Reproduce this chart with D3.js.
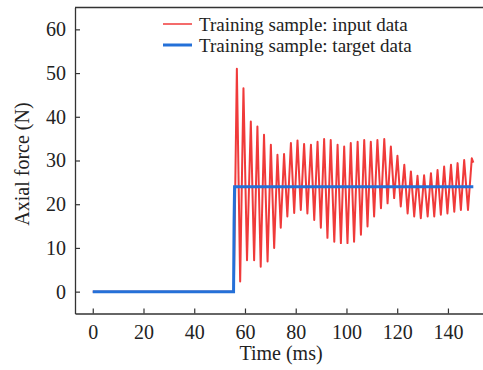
<!DOCTYPE html>
<html>
<head>
<meta charset="utf-8">
<script src="https://cdn.jsdelivr.net/npm/d3@7"></script>
<style>
  body { margin: 0; background: #fff; }
  svg { display: block; font-family: "Liberation Serif", "Times New Roman", serif; }
</style>
</head>
<body>
<svg id="chart" width="483" height="370"></svg>
<script>
'use strict';

// training sample, input (red): turning points
var inputTime = [0, 55.6,
    56.8, 58.1, 59.4, 60.8, 62.3, 63.6, 64.9, 66.2, 67.5, 68.9,
    70.2, 71.5, 72.8, 74.1, 75.4, 76.7, 78.1, 79.4, 80.7, 82.0,
    83.3, 84.6, 86.0, 87.3, 88.6, 89.9, 91.2, 92.5, 93.8, 95.2,
    96.5, 97.8, 99.1, 100.4, 101.7, 103.0, 104.4, 105.7, 107.0, 108.3,
    109.6, 110.9, 112.2, 113.6, 114.9, 116.2, 117.5, 118.8, 120.1, 121.4,
    122.8, 124.1, 125.4, 126.7, 128.0, 129.3, 130.6, 132.0, 133.3, 134.6,
    135.9, 137.2, 138.5, 139.8, 141.2, 142.5, 143.8, 145.1, 146.4, 147.9,
    149.4, 150.0];
var inputForce = [0, 0,
    51.0, 2.3, 46.5, 7.2, 38.9, 7.2, 37.8, 5.7, 35.9, 6.9,
    33.6, 10.0, 31.3, 14.6, 31.5, 17.2, 34.0, 18.0, 34.6, 18.7,
    33.8, 17.9, 33.6, 16.4, 34.3, 14.6, 34.9, 12.3, 34.7, 11.4,
    33.6, 11.1, 33.2, 11.1, 34.0, 11.4, 34.3, 13.0, 34.7, 14.9,
    34.3, 17.2, 34.7, 19.1, 34.9, 20.2, 33.2, 21.4, 31.1, 19.5,
    29.0, 17.9, 27.5, 17.2, 26.5, 16.8, 26.6, 17.2, 27.1, 17.2,
    27.8, 17.6, 28.6, 17.9, 29.0, 18.3, 29.4, 18.7, 30.1, 18.7,
    30.5, 29.5];

// training sample, target (blue)
var targetTime = [0, 55.5, 55.7, 55.9, 150];
var targetForce = [0, 0, 16, 24, 24];

var xTicks = [0, 20, 40, 60, 80, 100, 120, 140];
var yTicks = [0, 10, 20, 30, 40, 50, 60];
var legendLabels = ["Training sample: input data", "Training sample: target data"];
var seriesColors = ["#f03a3a", "#2470d8"];

function drawChart() {
    var svg = d3.select("#chart"),
        left = 75, right = 486, plotTop = 7.5, bottom = 313.5;

    var x = d3.scaleLinear().domain([-7, 155]).range([left, right]);
    var y = d3.scaleLinear().domain([-5, 65]).range([bottom, plotTop]);

    var line = d3.line()
        .x(function(d) { return x(d[0]); })
        .y(function(d) { return y(d[1]); });

    svg.append("path")
        .datum(d3.zip(inputTime, inputForce))
        .attr("d", line)
        .style("fill", "none")
        .style("stroke", seriesColors[0])
        .style("stroke-width", 2)
        .style("stroke-linejoin", "round");

    svg.append("path")
        .datum(d3.zip(targetTime, targetForce))
        .attr("d", line)
        .style("fill", "none")
        .style("stroke", seriesColors[1])
        .style("stroke-width", 3);

    // axes, ticks pointing inwards
    var xAxis = svg.append("g")
        .attr("transform", "translate(0," + bottom + ")")
        .call(d3.axisBottom(x).tickValues(xTicks).tickSizeInner(-5).tickSizeOuter(0).tickPadding(11));

    var yAxis = svg.append("g")
        .attr("transform", "translate(" + left + ",0)")
        .call(d3.axisLeft(y).tickValues(yTicks).tickSizeInner(-5).tickSizeOuter(0).tickPadding(9));

    [xAxis, yAxis].forEach(function(ax) {
        ax.select(".domain").style("stroke", "#333").style("stroke-width", 1.3);
        ax.selectAll(".tick line").style("stroke", "#333").style("stroke-width", 1.2);
        ax.selectAll(".tick text")
            .style("font-family", "Liberation Serif")
            .style("font-size", "20px")
            .style("fill", "#222");
    });

    // top frame edge
    svg.append("line")
        .attr("x1", left).attr("x2", right)
        .attr("y1", plotTop).attr("y2", plotTop)
        .style("stroke", "#333")
        .style("stroke-width", 1.3);

    svg.append("text")
        .attr("x", 281)
        .attr("y", 360)
        .style("text-anchor", "middle")
        .style("font-size", "20px")
        .style("fill", "#222")
        .text("Time (ms)");

    svg.append("text")
        .attr("transform", "translate(29,164) rotate(-90)")
        .style("text-anchor", "middle")
        .style("font-size", "20px")
        .style("fill", "#222")
        .text("Axial force (N)");

    // legend
    var legend = svg.append("g").attr("transform", "translate(163,24)");
    legendLabels.forEach(function(label, i) {
        legend.append("line")
            .attr("x1", 0).attr("x2", 29)
            .attr("y1", i * 21).attr("y2", i * 21)
            .style("stroke", seriesColors[i])
            .style("stroke-width", i === 0 ? 1.5 : 3);
        legend.append("text")
            .attr("x", 36)
            .attr("y", i * 21 + 7)
            .style("font-size", "19px")
            .style("fill", "#222")
            .text(label);
    });
}

drawChart();
</script>
</body>
</html>
